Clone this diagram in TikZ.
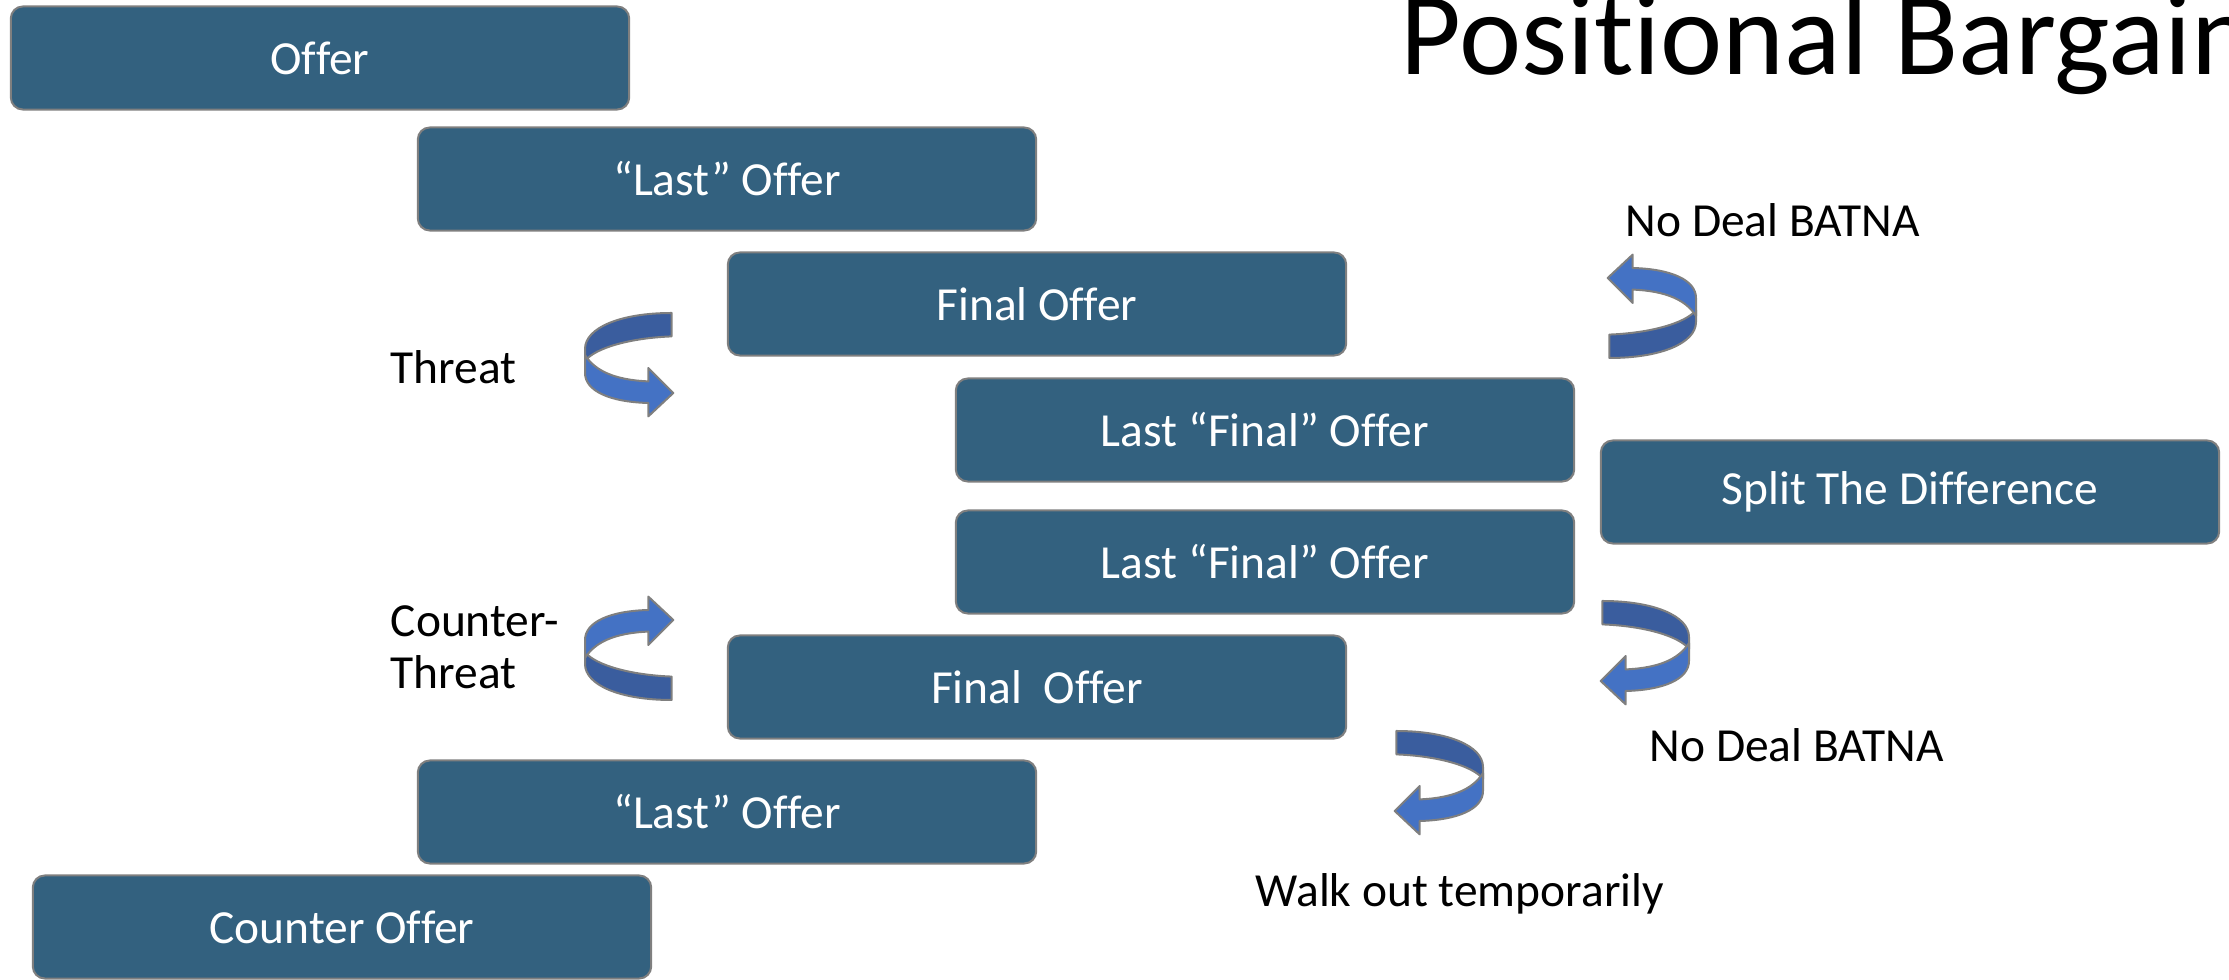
\documentclass[tikz,border=0pt]{standalone}
\usepackage{fontspec}
\setmainfont{Carlito}[Ligatures={TeX,NoCommon}]
\definecolor{boxfill}{HTML}{33617F}
\definecolor{boxline}{HTML}{7F7F7F}
\definecolor{bandback}{HTML}{3A5D9E}
\definecolor{bandfront}{HTML}{4472C4}
\begin{document}
\begin{tikzpicture}[x=0.01cm,y=-0.01cm,
  offerbox/.style={draw=boxline, line width=0.02cm, fill=boxfill,
    rounded corners=0.12cm, minimum width=6.18cm, minimum height=1.03cm,
    text=white, font=\fontsize{13.5}{16}\selectfont, inner sep=0pt},
  note/.style={font=\fontsize{13.5}{14.9}\selectfont, anchor=west,
    inner sep=0pt, align=left},
  ribbon/.style={draw=boxline, line width=0.02cm, line join=round},
  uturn/.pic={
    % back half of the twisted ribbon
    \draw[ribbon, fill=bandback] (86.6,0) .. controls (35,0) and (0,15) .. (0,36)
      -- (0,48) .. controls (10,35) and (45,25) .. (86.6,23.4) -- cycle;
    % front half with the arrow head
    \draw[ribbon, fill=bandfront] (0,42) .. controls (10,58) and (30,67) .. (63.3,68.4)
      -- (63.3,55) -- (88.3,80) -- (63.3,103.4) -- (63.3,90)
      .. controls (25,89) and (0,78) .. (0,60) -- cycle;
  }
]
\useasboundingbox (0,0) rectangle (2229,980);
\clip (0,0) rectangle (2229,980);

% title
\node[anchor=base west, inner sep=0pt, font=\fontsize{33.5}{38}\selectfont]
  (title) at (1400,75) {Positional Bargaining};

% the ladder of offers
\node[offerbox] (o1) at (320,58)  {Offer};
\node[offerbox] (o2) at (727,179) {“Last” Offer};
\node[offerbox] (o3) at (1037,304) {Final Offer};
\node[offerbox] (o4) at (1265,430) {Last “Final” Offer};
\node[offerbox] (o5) at (1910,492) {Split The Difference};
\node[offerbox] (o6) at (1265,562) {Last “Final” Offer};
\node[offerbox] (o7) at (1037,687) {Final\ \ Offer};
\node[offerbox] (o8) at (727,812) {“Last” Offer};
\node[offerbox] (o9) at (342,927) {Counter Offer};

% side notes
\node[note] (nd1) at (1625,220) {No Deal BATNA};
\node[note] (thr) at (390,367) {Threat};
\node[note] (cthr) at (390,647) {Counter-\\Threat};
\node[note] (nd2) at (1649,745) {No Deal BATNA};
\node[note] (walk) at (1255,894) {Walk out temporarily};

% U-turn ribbons
\pic at (585,313) {uturn};
\pic[yscale=-1] at (585,700) {uturn};
\pic[xscale=-1, yscale=-1] at (1696,358) {uturn};
\pic[xscale=-1] at (1689,601) {uturn};
\pic[xscale=-1] at (1483,731) {uturn};
\end{tikzpicture}
\end{document}
